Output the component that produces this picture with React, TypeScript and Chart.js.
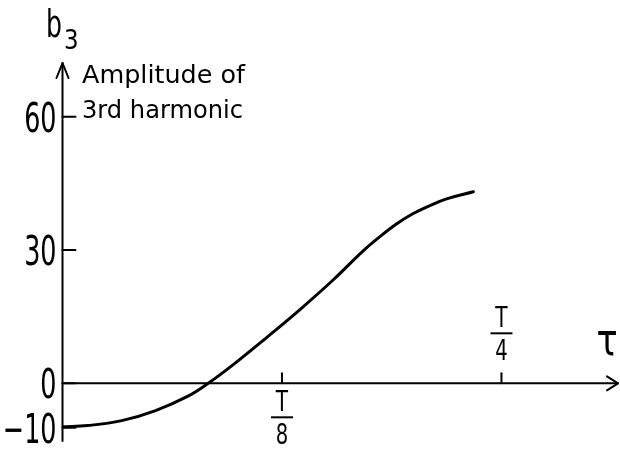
import { useEffect, useRef } from "react";
import { Chart, registerables } from "chart.js";

Chart.register(...registerables);

// Delay τ, in units of T/8, and the amplitude b3 of the 3rd harmonic
const tau = [0, 0.116, 0.27, 0.421, 0.572, 0.664, 0.778, 0.93, 1.082, 1.234, 1.37, 1.446, 1.523, 1.598, 1.674, 1.75, 1.872];
const b3 = [-9.8, -9.5, -8.4, -6.2, -2.9, 0, 4.2, 10.3, 16.6, 23.3, 29.8, 33.0, 35.9, 38.2, 40.0, 41.5, 43.1];

const yTicks = [60, 30, 0, -10];
const yTickLabels = ["60", "30", "0", "\u221210"];
const xTicks = [1, 2];
const xTickNumerators = ["T", "T"];
const xTickDenominators = ["8", "4"];
const xTickBelow = [true, false];

const yTitle = "b";
const yTitleSub = "3";
const yNote = ["Amplitude of", "3rd harmonic"];
const xTitle = "\u03c4";

const X_MIN = 0;
const X_MAX = 2.531;
const Y_MIN = -12.98;
const Y_MAX = 72.07;

const FONT = "'DejaVu Sans', sans-serif";

type Align = "left" | "right" | "center";

// Draws text squeezed horizontally by sx, anchored at (x, baseline y)
function drawText(
  ctx: CanvasRenderingContext2D,
  text: string,
  x: number,
  y: number,
  size: number,
  sx: number,
  align: Align
) {
  ctx.save();
  ctx.font = `${size}px ${FONT}`;
  ctx.textBaseline = "alphabetic";
  ctx.textAlign = "left";
  const w = ctx.measureText(text).width * sx;
  let left = x;
  if (align === "right") left = x - w;
  else if (align === "center") left = x - w / 2;
  ctx.translate(left, y);
  ctx.scale(sx, 1);
  ctx.fillStyle = "#000";
  ctx.fillText(text, 0, 0);
  ctx.restore();
}

// Draws text stretched to fill a given width
function drawFit(
  ctx: CanvasRenderingContext2D,
  text: string,
  x: number,
  y: number,
  size: number,
  width: number
) {
  ctx.save();
  ctx.font = `${size}px ${FONT}`;
  const m = ctx.measureText(text).width;
  ctx.restore();
  drawText(ctx, text, x, y, size, width / m, "left");
}

function seg(ctx: CanvasRenderingContext2D, pts: number[][]) {
  ctx.beginPath();
  ctx.moveTo(pts[0][0], pts[0][1]);
  for (let i = 1; i < pts.length; i++) ctx.lineTo(pts[i][0], pts[i][1]);
  ctx.stroke();
}

const axesPlugin = {
  id: "handAxes",
  beforeDatasetsDraw(chart: any) {
    const ctx: CanvasRenderingContext2D = chart.ctx;
    const xs = chart.scales.x;
    const ys = chart.scales.y;
    const x0 = xs.getPixelForValue(0);
    const y0 = ys.getPixelForValue(0);
    const top = ys.getPixelForValue(Y_MAX);
    const bottom = ys.getPixelForValue(Y_MIN);
    const right = xs.getPixelForValue(X_MAX);

    ctx.save();
    ctx.strokeStyle = "#000";
    ctx.lineWidth = 2;
    ctx.lineCap = "round";
    ctx.lineJoin = "round";

    // vertical axis with arrow
    seg(ctx, [[x0, bottom], [x0, top]]);
    seg(ctx, [[x0 - 6, top + 15], [x0, top], [x0 + 6, top + 15]]);

    // horizontal axis with arrow
    seg(ctx, [[x0, y0], [right, y0]]);
    seg(ctx, [[right - 11, y0 - 7], [right, y0], [right - 11, y0 + 7]]);

    // y ticks point into the plot
    yTicks.forEach((v) => {
      const py = ys.getPixelForValue(v);
      seg(ctx, [[x0, py], [x0 + 13, py]]);
    });

    // x ticks point upward
    xTicks.forEach((v) => {
      const px = xs.getPixelForValue(v);
      seg(ctx, [[px, y0], [px, y0 - 10]]);
    });
    ctx.restore();
  },
  afterDraw(chart: any) {
    const ctx: CanvasRenderingContext2D = chart.ctx;
    const xs = chart.scales.x;
    const ys = chart.scales.y;
    const x0 = xs.getPixelForValue(0);
    const y0 = ys.getPixelForValue(0);

    // y tick labels
    yTicks.forEach((v, i) => {
      const py = ys.getPixelForValue(v);
      drawText(ctx, yTickLabels[i], x0 - 6, py + 15, 41, 0.62, "right");
    });

    // x tick labels as fractions
    ctx.save();
    ctx.strokeStyle = "#000";
    ctx.lineWidth = 2;
    xTicks.forEach((v, i) => {
      const px = xs.getPixelForValue(v);
      const barY = xTickBelow[i] ? y0 + 34 : y0 - 50;
      seg(ctx, [[px - 11, barY], [px + 11, barY]]);
      drawText(ctx, xTickNumerators[i], px, barY - 6, 28, 0.72, "center");
      drawText(ctx, xTickDenominators[i], px, barY + 27, 28, 0.7, "center");
    });
    ctx.restore();

    // axis titles
    drawText(ctx, yTitle, 46, 37, 37, 0.68, "left");
    drawText(ctx, yTitleSub, 64, 49, 27, 0.85, "left");
    drawFit(ctx, yNote[0], 82, 83, 25, 163);
    drawFit(ctx, yNote[1], 82, 118, 25, 161);
    drawText(ctx, xTitle, 607, 355, 44, 0.8, "center");
  },
};

export default function App() {
  const canvasRef = useRef<HTMLCanvasElement | null>(null);

  useEffect(() => {
    const canvas = canvasRef.current;
    if (!canvas) return;
    const chart = new Chart(canvas, {
      type: "line",
      data: {
        datasets: [
          {
            data: tau.map((t, i) => ({ x: t, y: b3[i] })),
            borderColor: "#000",
            borderWidth: 3,
            borderCapStyle: "round",
            borderJoinStyle: "round",
            pointRadius: 0,
            tension: 0.4,
            fill: false,
          },
        ],
      },
      options: {
        responsive: false,
        animation: false,
        devicePixelRatio: 1,
        layout: { padding: { left: 62.5, right: 2, top: 63, bottom: 12 } },
        plugins: { legend: { display: false }, tooltip: { enabled: false } },
        scales: {
          x: { type: "linear", min: X_MIN, max: X_MAX, display: false },
          y: { type: "linear", min: Y_MIN, max: Y_MAX, display: false },
        },
      },
      plugins: [axesPlugin],
    });
    return () => chart.destroy();
  }, []);

  return (
    <div style={{ position: "fixed", left: 0, top: 0, width: 620, height: 453, background: "#fff" }}>
      <canvas ref={canvasRef} width={620} height={453} style={{ display: "block" }} />
    </div>
  );
}
